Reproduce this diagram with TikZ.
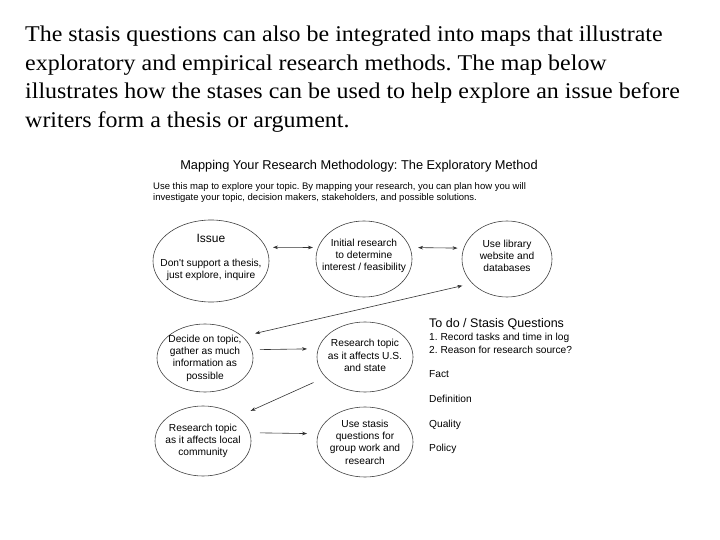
\documentclass[tikz,border=0pt]{standalone}
\usepackage{fontspec}
\setmainfont{Liberation Serif}
\newfontfamily\introfont[FakeStretch=1.065]{Liberation Serif}
\newfontfamily\arial{Liberation Sans}
\usetikzlibrary{shapes.geometric,arrows.meta}
\frenchspacing

\begin{document}
\begin{tikzpicture}[
    x=1pt, y=-1pt,
    every node/.style={inner sep=0pt},
    intro/.style={anchor=base west, font=\introfont\fontsize{22.5}{28}\selectfont},
    hd/.style={font=\arial\fontsize{12.8}{15}\selectfont},
    sub/.style={anchor=base west, font=\arial\fontsize{9.5}{11.5}\selectfont},
    blob/.style={draw=black!75, line width=0.6pt, ellipse},
    txt/.style={align=center, font=\arial\fontsize{10.2}{12.3}\selectfont},
    note/.style={anchor=base west, font=\arial\fontsize{10.2}{12.3}\selectfont},
    arr/.style={draw=black!80, line width=0.6pt},
    >={Stealth[length=5pt,width=3.6pt]}
]
\useasboundingbox (0,0) rectangle (720,540);

% text above the map
\node[intro] (l1) at (25,42) {The stasis questions can also be integrated into maps that illustrate};
\node[intro] (l2) at (25,71) {exploratory and empirical research methods. The map below};
\node[intro] (l3) at (25,99) {illustrates how the stases can be used to help explore an issue before};
\node[intro] (l4) at (25,128) {writers form a thesis or argument.};

% map heading
\node[hd, anchor=base] (title) at (359,170) {Mapping Your Research Methodology: The Exploratory Method};
\node[sub] (s1) at (153,189.5) {Use this map to explore your topic. By mapping your research, you can plan how you will};
\node[sub] (s2) at (153,201) {investigate your topic, decision makers, stakeholders, and possible solutions.};

% ellipses
\node[blob, minimum width=116, minimum height=82] (issue) at (211,261) {};
\node[blob, minimum width=96, minimum height=76] (init) at (364,259) {};
\node[blob, minimum width=90, minimum height=76] (lib) at (507,259) {};
\node[blob, minimum width=96, minimum height=68] (decide) at (205,358) {};
\node[blob, minimum width=96, minimum height=70] (us) at (365,357) {};
\node[blob, minimum width=96, minimum height=70] (local) at (203,441) {};
\node[blob, minimum width=96, minimum height=70] (stasis) at (365,442) {};

% their texts
\node[txt, font=\arial\fontsize{12}{14}\selectfont] (issueHd) at (211,238) {Issue};
\node[txt] (issueTx) at (211,270) {Don't support a thesis,\\just explore, inquire};
\node[txt] (initTx) at (364,256) {Initial research\\to determine\\interest / feasibility};
\node[txt] (libTx) at (507,256) {Use library\\website and\\databases};
\node[txt] (decideTx) at (205,358) {Decide on topic,\\gather as much\\information as\\possible};
\node[txt] (usTx) at (365,355.5) {Research topic\\as it affects U.S.\\and state};
\node[txt] (localTx) at (203,441) {Research topic\\as it affects local\\community};
\node[txt] (stasisTx) at (365,442) {Use stasis\\questions for\\group work and\\research};

% stasis list
\node[note, font=\arial\fontsize{12.5}{14}\selectfont] (todo) at (429,327) {To do / Stasis Questions};
\node[note] (todo1) at (429,340) {1. Record tasks and time in log};
\node[note] (todo2) at (429,353) {2. Reason for research source?};
\node[note] (fact) at (429,377) {Fact};
\node[note] (defn) at (429,402) {Definition};
\node[note] (qual) at (429,427) {Quality};
\node[note] (pol) at (429,451) {Policy};

% connectors
\draw[arr, <->, shorten <=7pt, shorten >=5pt] (issue.14) -- (init.166);
\draw[arr, <->, shorten <=8pt, shorten >=6pt] (init.14) -- (lib.166);
\draw[arr, <->, shorten <=13pt, shorten >=10pt] (decide.30) -- (lib.215);
\draw[arr, ->, shorten <=8pt, shorten >=11pt] (decide.10) -- (us.170);
\draw[arr, ->, shorten <=13pt, shorten >=14pt] (us.207) -- (local.35);
\draw[arr, ->, shorten <=10pt, shorten >=11pt] (local.10) -- (stasis.170);
\end{tikzpicture}
\end{document}
